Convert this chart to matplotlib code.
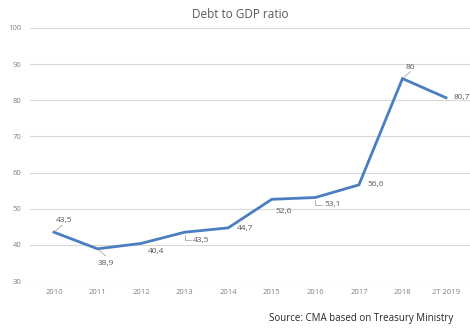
import matplotlib.pyplot as plt

years = ['2010', '2011', '2012', '2013', '2014', '2015', '2016', '2017', '2018', '2T 2019']
debt_ratio = [43.5, 38.9, 40.4, 43.5, 44.7, 52.6, 53.1, 56.6, 86, 80.7]
value_labels = ['43,5', '38,9', '40,4', '43,5', '44,7', '52,6', '53,1', '56,6', '86', '80,7']

# left edge / vertical centre of each label, in pixels from its point
offsets = [(2, 12), (0, -15), (7, -8), (8, -8), (9, -1), (4, -12), (9, -7), (9, 0), (3, 11), (8, 0)]
leaders = ['line', 'line', None, 'elbow', None, None, 'elbow', None, 'line', None]

line_color = '#4a7ebf'
text_grey = '#595959'
grid_grey = '#d9d9d9'

plt.rcParams['font.family'] = ['Open Sans', 'DejaVu Sans']

fig = plt.figure(figsize=(4.7, 3.29), dpi=100)
ax = fig.add_axes([30 / 470, 1 - 281 / 329, 440 / 470, 253 / 329])

x = list(range(len(years)))
ax.plot(x, debt_ratio, color=line_color, linewidth=2, solid_joinstyle='miter', zorder=3)

ax.set_xlim(-0.55, len(years) - 0.45)
ax.set_ylim(30, 100)
ax.set_yticks(range(30, 101, 10))
ax.set_xticks(x)
ax.set_xticklabels(years)
ax.grid(axis='y', color=grid_grey, linewidth=0.8)
ax.set_axisbelow(True)
ax.tick_params(axis='both', length=0, labelsize=5.5, labelcolor='#808080', pad=6)
for spine in ax.spines.values():
    spine.set_visible(False)

for xi, yi, lab, (dx, dy), leader in zip(x, debt_ratio, value_labels, offsets, leaders):
    ax.annotate(lab, (xi, yi), xytext=(dx, dy), textcoords='offset pixels',
                ha='left', va='center', fontsize=6, color=text_grey, zorder=4,
                annotation_clip=False)
    if leader == 'line':
        sy = 1 if dy >= 0 else -1
        ax.annotate('', (xi, yi), xytext=(8, 7 * sy), textcoords='offset pixels',
                    arrowprops=dict(arrowstyle='-', color='#a6a6a6', linewidth=0.6,
                                    shrinkA=0, shrinkB=1))
    elif leader == 'elbow':
        ax.annotate('', (xi, yi), xytext=(dx - 2, dy), textcoords='offset pixels',
                    arrowprops=dict(arrowstyle='-', color='#a6a6a6', linewidth=0.6,
                                    connectionstyle='angle,angleA=0,angleB=90,rad=0',
                                    shrinkA=0, shrinkB=2))

fig.text(240 / 470, 1 - 14 / 329, 'Debt to GDP ratio', ha='center', va='center',
         fontsize=8.5, color=text_grey)
fig.text(453 / 470, 1 - 318 / 329, 'Source: CMA based on Treasury Ministry',
         ha='right', va='center', fontsize=7, color='#262626')

fig.savefig('out.png', dpi=100)
